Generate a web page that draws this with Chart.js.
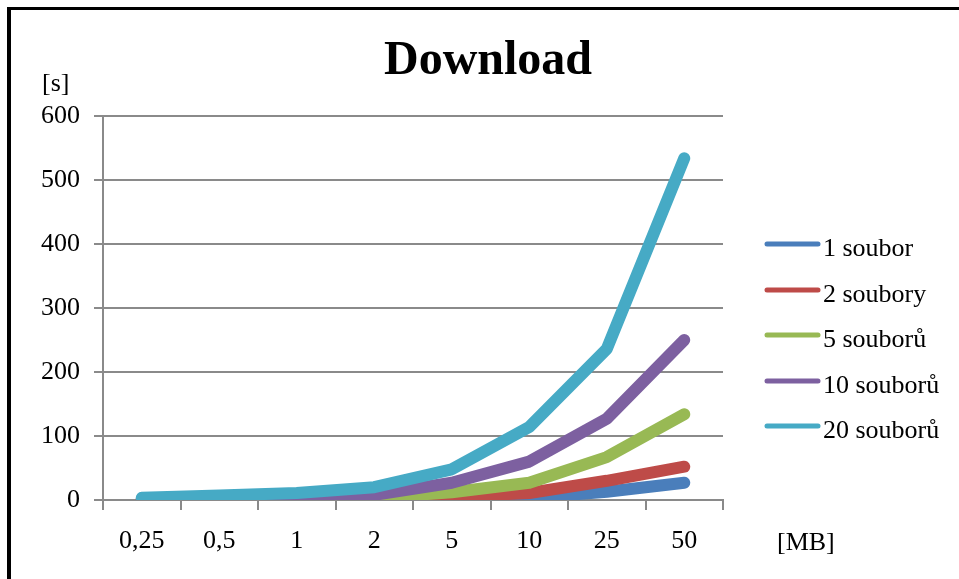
<!DOCTYPE html>
<html>
<head>
<meta charset="utf-8">
<script src="https://cdn.jsdelivr.net/npm/chart.js@4/dist/chart.umd.min.js"></script>
<style>
  html, body { margin: 0; padding: 0; background: #fff; }
  #wrap { width: 959px; height: 579px; position: relative; }
</style>
</head>
<body>
<div id="wrap"><canvas id="c" width="959" height="579"></canvas></div>
<script>
// ---- data ----
const categories = ['0,25', '0,5', '1', '2', '5', '10', '25', '50'];
const seriesNames = ['1 soubor', '2 soubory', '5 souborů', '10 souborů', '20 souborů'];
const soubor1  = [0.2, 0.3, 0.5, 0.9, 2, 3, 13, 27];
const soubory2 = [0.4, 0.6, 1, 1.8, 5, 11, 30, 52];
const soubory5 = [0.8, 1.2, 2, 3.5, 12, 27, 67, 134];
const soubory10 = [1.5, 2.5, 4, 8, 27, 60, 127, 250];
const soubory20 = [3.5, 7, 11, 20, 48, 114, 236, 534];
const yTicks = [0, 100, 200, 300, 400, 500, 600];
const titleText = 'Download';
const yUnit = '[s]';
const xUnit = '[MB]';

const colors = ['#4a7ebb', '#be4b48', '#98b954', '#7d60a0', '#46aac5'];
const seriesValues = [soubor1, soubory2, soubory5, soubory10, soubory20];
const FONT = "'Liberation Serif', 'Times New Roman', serif";
const GRID = '#8a8a8a';

const datasets = seriesValues.map((vals, i) => ({
  label: seriesNames[i],
  data: vals,
  borderColor: colors[i],
  backgroundColor: colors[i],
  borderWidth: 12,
  borderCapStyle: 'round',
  borderJoinStyle: 'round',
  pointRadius: 0,
  pointHoverRadius: 0,
  tension: 0,
  fill: false,
  order: seriesValues.length - i,
  clip: { left: 20, top: 20, right: 20, bottom: 0 }
}));

const decor = {
  id: 'decor',
  beforeDraw(chart) {
    const ctx = chart.ctx;
    ctx.save();
    ctx.fillStyle = '#fff';
    ctx.fillRect(0, 0, chart.width, chart.height);
    ctx.fillStyle = '#000';
    ctx.fillRect(7, 7, chart.width - 7, 3);
    ctx.fillRect(7, 7, 4, chart.height - 7);
    ctx.restore();
  },
  afterDraw(chart) {
    const ctx = chart.ctx;
    ctx.save();
    ctx.fillStyle = '#000';
    ctx.textBaseline = 'alphabetic';
    ctx.font = 'bold 48px ' + FONT;
    ctx.textAlign = 'center';
    ctx.fillText(titleText, 488, 74);
    ctx.font = '26px ' + FONT;
    ctx.textAlign = 'left';
    ctx.fillText(yUnit, 42, 91);
    ctx.fillText(xUnit, 777, 550);
    // legend
    const legY = [244, 290, 335, 381, 426];
    seriesNames.forEach((name, i) => {
      const y = legY[i];
      ctx.strokeStyle = colors[i];
      ctx.lineWidth = 5;
      ctx.lineCap = 'round';
      ctx.beginPath();
      ctx.moveTo(767, y);
      ctx.lineTo(818, y);
      ctx.stroke();
      ctx.fillStyle = '#000';
      ctx.fillText(name, 823, y + 12);
    });
    ctx.restore();
  }
};

new Chart(document.getElementById('c'), {
  type: 'line',
  data: { labels: categories, datasets },
  options: {
    responsive: false,
    animation: false,
    devicePixelRatio: 1,
    layout: { padding: { top: 116, right: 236, left: 0, bottom: 0 } },
    plugins: {
      legend: { display: false },
      title: { display: false },
      tooltip: { enabled: false }
    },
    scales: {
      x: {
        offset: true,
        grid: {
          offset: true,
          drawOnChartArea: false,
          drawTicks: true,
          tickLength: 10,
          color: GRID,
          lineWidth: 2
        },
        border: { display: true, color: GRID, width: 2 },
        ticks: {
          color: '#000',
          font: { family: FONT, size: 26 },
          padding: 16,
          maxRotation: 0,
          autoSkip: false
        },
        afterFit(scale) { scale.height = 79; }
      },
      y: {
        min: 0,
        max: 600,
        afterBuildTicks(scale) { scale.ticks = yTicks.map(v => ({ value: v })); },
        grid: {
          color: GRID,
          lineWidth: 2,
          drawTicks: true,
          tickLength: 9
        },
        border: { display: true, color: GRID, width: 2 },
        ticks: {
          color: '#000',
          font: { family: FONT, size: 26 },
          padding: 14
        },
        afterFit(scale) { scale.width = 103; }
      }
    }
  },
  plugins: [decor]
});
</script>
</body>
</html>
